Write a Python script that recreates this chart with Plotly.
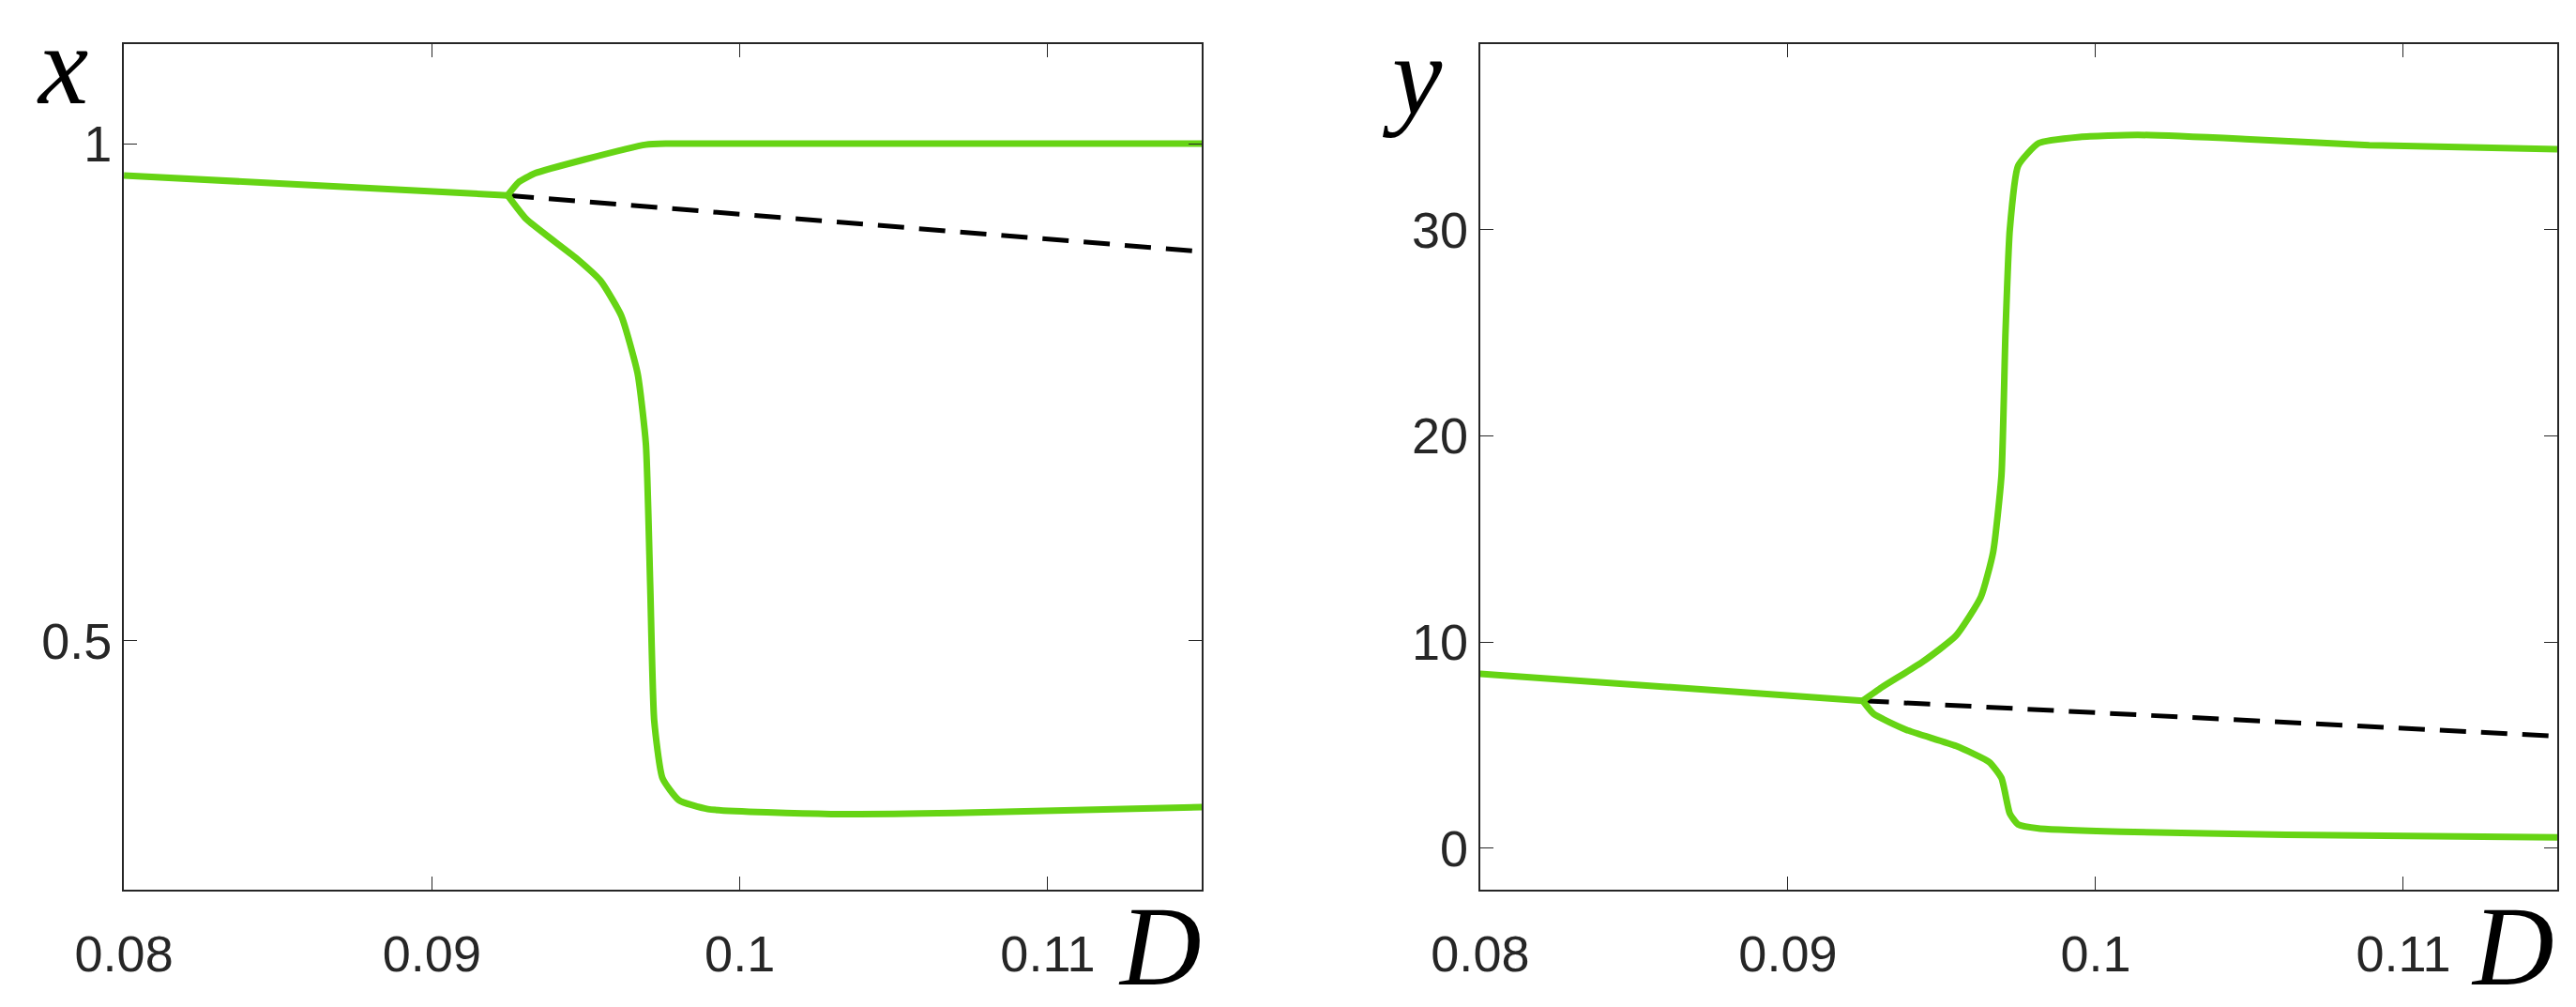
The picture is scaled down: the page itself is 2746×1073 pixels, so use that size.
import plotly.graph_objects as go
from plotly.subplots import make_subplots

GREEN = "#66d414"

# left panel: x vs D
x_stable_D = [0.08, 0.09246]
x_stable = [0.968, 0.948]
x_unstable_D = [0.09246, 0.115]
x_unstable = [0.948, 0.8915]
x_upper_D = [0.09246, 0.09281, 0.09334, 0.09495, 0.09695, 0.09762, 0.115]
x_upper = [0.948, 0.961, 0.970, 0.984, 0.999, 1.0, 1.0]
x_lower_D = [0.09246, 0.09307, 0.09468, 0.09548, 0.09615, 0.09668, 0.09695, 0.09709,
             0.09722, 0.09749, 0.09802, 0.09896, 0.10297, 0.10698, 0.115]
x_lower = [0.948, 0.924, 0.885, 0.862, 0.827, 0.769, 0.698, 0.556,
           0.420, 0.362, 0.340, 0.331, 0.326, 0.327, 0.333]

# right panel: y vs D
y_stable_D = [0.08, 0.09243]
y_stable = [8.47, 7.16]
y_unstable_D = [0.09243, 0.115]
y_unstable = [7.16, 5.44]
y_upper_D = [0.09243, 0.09305, 0.09439, 0.09546, 0.09627, 0.09667, 0.09694, 0.09707,
             0.09721, 0.09748, 0.09815, 0.09949, 0.10137, 0.10486, 0.10889, 0.115]
y_upper = [7.16, 7.81, 9.06, 10.31, 12.19, 14.38, 18.1, 25.0,
           30.0, 33.1, 34.2, 34.5, 34.6, 34.4, 34.1, 33.9]
y_lower_D = [0.09243, 0.09278, 0.09385, 0.09546, 0.09654, 0.09694, 0.09721, 0.09748,
             0.09815, 0.10083, 0.1062, 0.115]
y_lower = [7.16, 6.53, 5.75, 4.97, 4.19, 3.41, 1.69, 1.16, 0.97, 0.81, 0.66, 0.53]

fig = make_subplots(rows=1, cols=2)

green = dict(color=GREEN, width=7, shape="spline", smoothing=0.5)
dash = dict(color="black", width=5, dash="28px,16px")

for col, sets in [(1, [(x_stable_D, x_stable, green), (x_unstable_D, x_unstable, dash),
                       (x_upper_D, x_upper, green), (x_lower_D, x_lower, green)]),
                  (2, [(y_stable_D, y_stable, green), (y_unstable_D, y_unstable, dash),
                       (y_upper_D, y_upper, green), (y_lower_D, y_lower, green)])]:
    for d, v, ln in sets:
        fig.add_trace(go.Scatter(x=d, y=v, mode="lines", line=ln, showlegend=False), row=1, col=col)

axis_style = dict(showgrid=False, zeroline=False, showline=True, linecolor="#262626", linewidth=2,
                  mirror="ticks", ticks="inside", ticklen=14, tickcolor="#262626", automargin=False,
                  tickfont=dict(family="Liberation Sans", size=54, color="#262626"))

xtick = dict(tickvals=[0.08, 0.09, 0.1, 0.11], ticktext=["0.08", "0.09", "0.1", "0.11"],
             range=[0.08, 0.115], ticklabelstandoff=20)
fig.update_xaxes(**axis_style, **xtick)
fig.update_xaxes(domain=[0.0452, 0.4636], row=1, col=1)
fig.update_xaxes(domain=[0.5717, 0.9898], row=1, col=2)
fig.update_yaxes(**axis_style)
fig.update_yaxes(domain=[0.124, 0.9636], range=[0.25, 1.1], tickvals=[0.5, 1],
                 ticktext=["0.5", "1"], row=1, col=1)
fig.update_yaxes(domain=[0.124, 0.9636], range=[-2, 39], tickvals=[0, 10, 20, 30], row=1, col=2)

lab = dict(family="Liberation Serif", size=120, color="black")
for txt, x, y in [("<i>x</i>", 58, 62), ("<i>D</i>", 1228, 1000),
                  ("<i>y</i>", 1498, 72), ("<i>D</i>", 2670, 1000)]:
    fig.add_annotation(text=txt, xref="paper", yref="paper", x=x / 2746, y=1 - y / 1073,
                       xanchor="center", yanchor="middle", showarrow=False, font=lab)

fig.update_layout(width=2746, height=1073, margin=dict(l=0, r=0, t=0, b=0),
                  plot_bgcolor="white", paper_bgcolor="white")
fig.write_html("out.html")
